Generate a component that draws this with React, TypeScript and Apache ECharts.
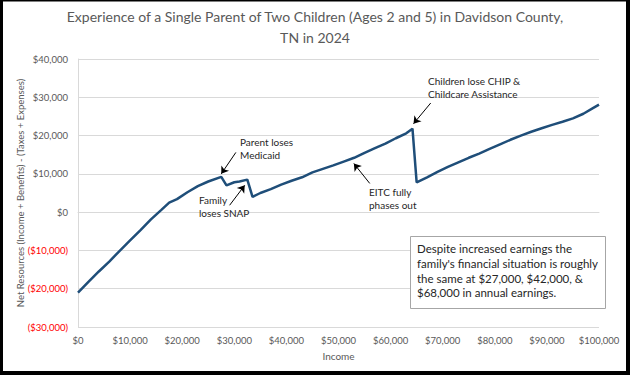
import React, { useEffect, useRef } from "react";
import * as echarts from "echarts";

const incomes = [
  0, 2000, 4000, 6000, 8000, 10000, 12000, 14000, 16000, 17500, 19000, 21000,
  23000, 25000, 27500, 28500, 30000, 31000, 32500, 33500, 35000, 37000, 39000,
  41000, 43000, 45000, 47000, 49000, 51000, 53000, 55000, 57000, 59000, 61000,
  63000, 64200, 65000, 67000, 69000, 71000, 73000, 75000, 77000, 79000, 81000,
  83000, 85000, 87000, 89000, 91000, 93000, 95000, 97000, 99000, 100000,
];
const netResources = [
  -21000, -18200, -15500, -12900, -10100, -7400, -4700, -1900, 600, 2500, 3400,
  5200, 6800, 8000, 9200, 7000, 7800, 8000, 8500, 4000, 5000, 6000, 7200, 8200,
  9100, 10400, 11300, 12200, 13200, 14200, 15500, 16700, 17900, 19300, 20600,
  21800, 7800, 9100, 10500, 11800, 13000, 14200, 15300, 16500, 17700, 18900,
  20000, 21000, 21900, 22800, 23600, 24500, 25700, 27300, 28100,
];

const titleLines = [
  "Experience of a Single Parent of Two Children (Ages 2 and 5) in Davidson County,",
  "TN in 2024",
];
const yAxisTitle = "Net Resources (Income + Benefits) - (Taxes + Expenses)";
const xAxisTitle = "Income";
const noteText = [
  "Despite increased earnings the",
  "family's financial situation is roughly",
  "the same at $27,000, $42,000, &",
  "$68,000 in annual earnings.",
];

// arrows: [tailIncome, tailValue, tipIncome, tipValue]
const arrows = [
  [30300, 15600, 27500, 10000],
  [29100, 1800, 32000, 7000],
  [56000, 7500, 52950, 12700],
  [67700, 28500, 64400, 23100],
];

const FONT = "Lato, 'Open Sans', sans-serif";

const fmt = (v: number) => {
  const s = "$" + Math.abs(v).toLocaleString("en-US");
  return v < 0 ? "(" + s + ")" : s;
};

export default function App() {
  const ref = useRef<HTMLDivElement>(null);
  useEffect(() => {
    if (!ref.current) return;
    const chart = echarts.init(ref.current, undefined, { renderer: "svg" });
    const data = incomes.map((x, i) => [x, netResources[i]]);
    const annText = (x: number, y: number, text: string) => ({
      type: "text",
      left: x,
      top: y,
      z: 100,
      style: {
        text,
        font: `10px ${FONT}`,
        fill: "#262626",
        lineHeight: 12.5,
      },
    });
    chart.setOption({
      animation: false,
      backgroundColor: "#ffffff",
      title: {
        text: titleLines.join("\n"),
        left: "center",
        top: 1,
        textStyle: {
          fontFamily: FONT,
          fontSize: 14,
          fontWeight: "normal",
          color: "#595959",
          lineHeight: 21,
        },
      },
      grid: { left: 78, right: 31, top: 59, bottom: 48 },
      xAxis: {
        type: "value",
        min: 0,
        max: 100000,
        interval: 10000,
        name: xAxisTitle,
        nameLocation: "middle",
        nameGap: 24,
        nameTextStyle: { fontFamily: FONT, fontSize: 10, color: "#595959" },
        axisLine: { show: true, lineStyle: { color: "#d9d9d9", width: 1 } },
        axisTick: { show: false },
        splitLine: { show: false },
        axisLabel: {
          formatter: (v: number) => fmt(v),
          fontFamily: FONT,
          fontSize: 9.5,
          color: "#595959",
          margin: 8,
        },
      },
      yAxis: {
        type: "value",
        min: -30000,
        max: 40000,
        interval: 10000,
        axisLine: { show: true, lineStyle: { color: "#d9d9d9", width: 1 } },
        axisTick: { show: false },
        splitLine: { show: true, lineStyle: { color: "#d9d9d9", width: 1 } },
        axisLabel: {
          formatter: (v: number) => (v < 0 ? "{neg|" + fmt(v) + "}" : fmt(v)),
          fontFamily: FONT,
          fontSize: 9.5,
          color: "#595959",
          margin: 10,
          rich: {
            neg: { color: "#ff0000", fontFamily: FONT, fontSize: 9.5 },
          },
        },
      },
      series: [
        {
          type: "line",
          data,
          showSymbol: false,
          lineStyle: { color: "#1f4e79", width: 2.5 },
          itemStyle: { color: "#1f4e79" },
          markLine: {
            silent: true,
            symbol: ["none", "arrow"],
            symbolSize: 7,
            label: { show: false },
            lineStyle: { color: "#000000", width: 1, type: "solid" },
            data: arrows.map((a) => [
              { coord: [a[0], a[1]] },
              { coord: [a[2], a[3]] },
            ]),
          },
        },
      ],
      graphic: [
        {
          type: "text",
          x: 20,
          y: 193,
          rotation: Math.PI / 2,
          z: 100,
          style: {
            text: yAxisTitle,
            font: `9.5px ${FONT}`,
            fill: "#595959",
            align: "center",
            verticalAlign: "middle",
          },
        },
        annText(240, 136, "Parent loses\nMedicaid"),
        annText(199, 194, "Family\nloses SNAP"),
        annText(369, 186, "EITC fully\nphases out"),
        annText(428, 75, "Children lose CHIP &\nChildcare Assistance"),
        {
          type: "rect",
          z: 100,
          shape: { x: 410.5, y: 236.5, width: 195, height: 72 },
          style: { fill: "#ffffff", stroke: "#a6a6a6", lineWidth: 1 },
        },
        {
          type: "text",
          left: 417,
          top: 241,
          z: 101,
          style: {
            text: noteText.join("\n"),
            font: `11.5px ${FONT}`,
            fill: "#262626",
            lineHeight: 14.8,
          },
        },
        { type: "rect", z: 100, shape: { x: 0, y: 0, width: 3, height: 375 }, style: { fill: "#000" } },
        { type: "rect", z: 100, shape: { x: 0, y: 0, width: 630, height: 1.5 }, style: { fill: "#000" } },
        { type: "rect", z: 100, shape: { x: 626, y: 0, width: 4, height: 375 }, style: { fill: "#000" } },
        { type: "rect", z: 100, shape: { x: 0, y: 371, width: 630, height: 4 }, style: { fill: "#000" } },
      ],
    });
    return () => chart.dispose();
  }, []);
  return (
    <div
      ref={ref}
      style={{ position: "absolute", left: 0, top: 0, width: 630, height: 375 }}
    />
  );
}
